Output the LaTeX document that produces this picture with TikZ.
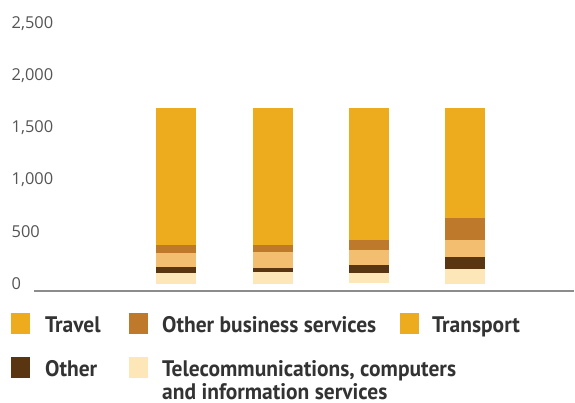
\documentclass[tikz,border=0pt]{standalone}
\usepackage{fontspec}
\setmainfont{PT Sans}
\newfontfamily\axisfont{Open Sans}
\definecolor{travel}{HTML}{EDAB1E}
\definecolor{obs}{HTML}{BE7A2A}
\definecolor{transp}{HTML}{F4BE70}
\definecolor{otherc}{HTML}{5A3511}
\definecolor{tele}{HTML}{FDE6B8}
\definecolor{axisgray}{HTML}{555555}
\definecolor{legtext}{HTML}{333333}
\begin{document}
\begin{tikzpicture}[x=1pt,y=-1pt,
  ylab/.style={anchor=base west,inner sep=0pt,font=\axisfont\fontsize{16.4}{18}\selectfont,text=axisgray},
  legsq/.style={inner sep=0pt,minimum width=19pt,minimum height=21pt},
  legtxt/.style={anchor=base west,inner sep=0pt,font=\fontsize{22.5}{24}\selectfont\bfseries\addfontfeature{FakeStretch=0.955},text=legtext,align=left}]
\useasboundingbox (0,0) rectangle (575,403);
% y labels
\node[ylab] (l2500) at (11.5,29) {2,500};
\node[ylab] (l2000) at (11.5,81) {2,000};
\node[ylab] (l1500) at (11.5,133) {1,500};
\node[ylab] (l1000) at (11.5,185) {1,000};
\node[ylab] (l500) at (11.5,237) {500};
\node[ylab] (l0) at (11.5,289) {0};
% baseline
\draw[color=gray!90,line width=1.3pt] (34,291) -- (574,291);
% bars
\newcommand{\mybar}[6]{%
  \fill[travel] (#1,108) rectangle (#1+40,#2);
  \fill[obs] (#1,#2) rectangle (#1+40,#3);
  \fill[transp] (#1,#3) rectangle (#1+40,#4);
  \fill[otherc] (#1,#4) rectangle (#1+40,#5);
  \fill[tele] (#1,#5) rectangle (#1+40,#6);
}
\mybar{156}{245}{253}{267}{273}{283.7}
\mybar{253}{245}{252}{268}{272}{284}
\mybar{349}{240}{250}{265}{273}{283}
\mybar{445}{218}{240}{257}{269}{284}
% legend
\node[legsq,fill=travel] (s1) at (20.5,323.5) {};
\node[legsq,fill=obs] (s2) at (138.5,323.5) {};
\node[legsq,fill=travel] (s3) at (409.5,323.5) {};
\node[legsq,fill=otherc] (s4) at (20.5,367.5) {};
\node[legsq,fill=tele] (s5) at (138.5,367.5) {};
\node[legtxt] (t1) at (45,332) {Travel};
\node[legtxt] (t2) at (162,332) {Other business services};
\node[legtxt] (t3) at (432,332) {Transport};
\node[legtxt] (t4) at (45,376.5) {Other};
\node[legtxt] (t5) at (162,376.5) {Telecommunications, computers};
\node[legtxt,text depth=0pt] (t6) at (162,399.5) {and information services};
\end{tikzpicture}
\end{document}
